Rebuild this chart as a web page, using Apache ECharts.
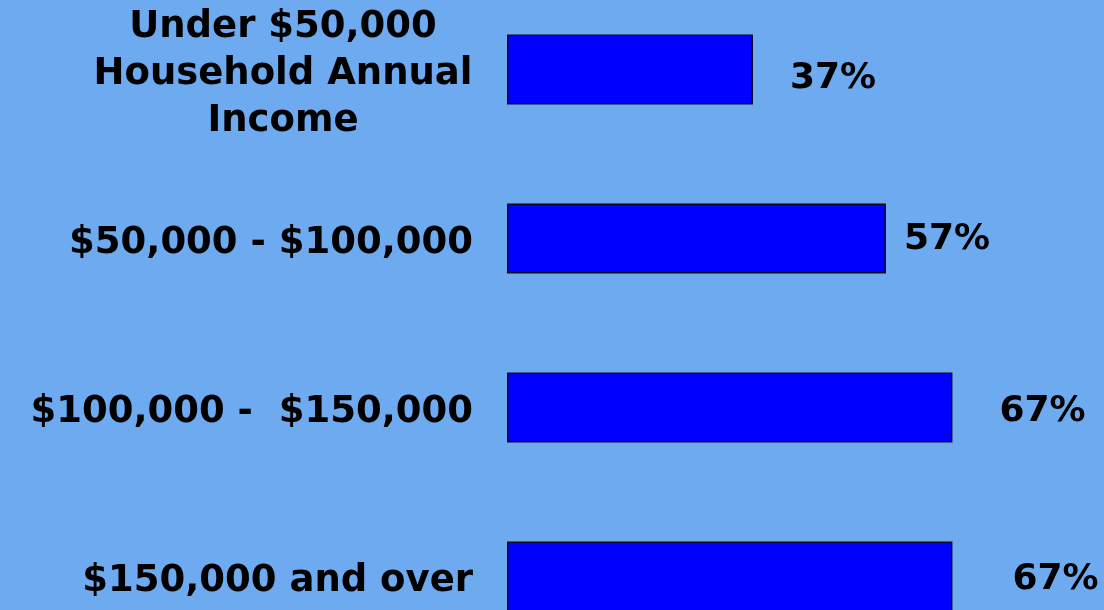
<!DOCTYPE html>
<html>
<head>
<meta charset="utf-8">
<style>
  html, body { margin: 0; padding: 0; background: #6eaaf0; overflow: hidden; }
  body { position: relative; width: 1104px; height: 610px; }
  /* the plot runs slightly past the top and bottom edges of the page */
  #chart { position: absolute; left: 0; top: -15px; width: 1104px; height: 676px; }
</style>
<script src="https://cdn.jsdelivr.net/npm/echarts@6/dist/echarts.min.js"></script>
</head>
<body>
<div id="chart"></div>
<script>
// Share of respondents by household annual income
const categories = [
  'Under $50,000\nHousehold Annual\nIncome',
  '$50,000 - $100,000',
  '$100,000 -  $150,000',
  '$150,000 and over'
];
const shares = [37, 57, 67, 67];

// small per-bar nudges for the value labels [dx, dy]
const labelNudge = [[37, 9], [18, 1], [47, 4], [60, 3]];

const chart = echarts.init(document.getElementById('chart'), null, { renderer: 'canvas' });

const font = 'DejaVu Sans, Verdana, sans-serif';

chart.setOption({
  backgroundColor: '#6eaaf0',
  animation: false,
  grid: { left: 507, right: 0, top: 0, bottom: 0, containLabel: false },
  xAxis: {
    type: 'value',
    min: 0,
    max: 89.8,
    show: false
  },
  yAxis: {
    type: 'category',
    inverse: true,
    data: categories,
    axisLine: { show: false },
    axisTick: { show: false },
    splitLine: { show: false },
    axisLabel: {
      margin: 34,
      padding: [10, 0, 0, 0],
      color: '#000',
      fontFamily: font,
      fontWeight: 'bold',
      fontSize: 37,
      formatter: function (v) {
        if (v.indexOf('\n') < 0) return v;
        return v.split('\n').map(function (s) { return '{c|' + s + '}'; }).join('\n');
      },
      rich: {
        c: {
          width: 380,
          align: 'center',
          lineHeight: 47,
          color: '#000',
          fontFamily: font,
          fontWeight: 'bold',
          fontSize: 37
        }
      }
    }
  },
  series: [{
    type: 'bar',
    barWidth: 70,
    data: shares.map(function (v, i) {
      return { value: v, label: { offset: labelNudge[i] } };
    }),
    itemStyle: {
      color: '#0000ff',
      borderColor: '#0a0a22',
      borderWidth: 1.5
    },
    label: {
      show: true,
      position: 'right',
      distance: 0,
      formatter: '{c}%',
      color: '#000',
      fontFamily: font,
      fontWeight: 'bold',
      fontSize: 36
    }
  }]
});
</script>
</body>
</html>
